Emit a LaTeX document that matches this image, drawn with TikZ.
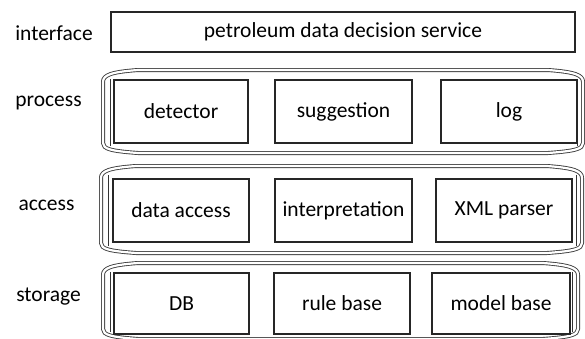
\documentclass[tikz,border=0pt]{standalone}
\usepackage{fontspec}
\setmainfont{Carlito}
\begin{document}
\begin{tikzpicture}[x=1pt,y=-1pt,
  box/.style={draw=black!85, line width=1.3pt, inner sep=0pt, font=\fontsize{21.5}{23}\selectfont},
  lbl/.style={font=\fontsize{21.5}{23}\selectfont, inner sep=0pt},
  grp/.style={draw=black!75, line width=0.9pt, double=white, double distance=2.2pt},
  bracket/.style={draw=black!80, line width=0.9pt}]
\useasboundingbox (0,0) rectangle (585,338);
\newcommand{\grpshape}[4]{%
  \draw[grp] (#1,#3+12) -- (#1,#4-10)
    .. controls (#1,#4-4) and (#1+8,#4-2) .. (#1+35,#4)
    -- (#2-35,#4)
    .. controls (#2-8,#4-2) and (#2,#4-4) .. (#2,#4-10)
    -- (#2,#3+12)
    .. controls (#2,#3+5) and (#2-8,#3+2) .. (#2-35,#3)
    -- (#1+35,#3)
    .. controls (#1+8,#3+2) and (#1,#3+5) .. cycle;
  \draw[bracket] (#1+7,#3+9) -- (#1+7,#4-7);
  \draw[bracket] (#2-6,#3+9) -- (#2-6,#4-7);
}
% labels
\node[lbl] (lint) at (54,33) {interface};
\node[lbl] (lpro) at (48.5,103) {process};
\node[lbl] (lacc) at (46.5,205) {access};
\node[lbl] (lsto) at (48.5,297) {storage};
% interface
\node[box, minimum width=464pt, minimum height=40pt] (svc) at (343,32) {petroleum data decision service};
% groups
\grpshape{103}{583}{70}{153}
\grpshape{101}{582}{166}{253}
\grpshape{103}{578}{263}{339}
% process
\node[box, minimum width=134pt, minimum height=63pt] (det) at (181,111.5) {detector};
\node[box, minimum width=137pt, minimum height=63pt] (sug) at (343.5,111.5) {suggestion};
\node[box, minimum width=136pt, minimum height=63pt] (log) at (509,111.5) {log};
% access
\node[box, minimum width=136pt, minimum height=63pt] (dac) at (181,210.5) {data access};
\node[box, minimum width=137pt, minimum height=63pt] (int) at (343.5,210.5) {interpretation};
\node[box, minimum width=136pt, minimum height=63pt] (xml) at (504,210.5) {XML parser};
% storage
\node[box, minimum width=135pt, minimum height=61pt] (db) at (181.5,303.5) {DB};
\node[box, minimum width=136pt, minimum height=61pt] (rule) at (342,303.5) {rule base};
\node[box, minimum width=138pt, minimum height=61pt] (model) at (501,303.5) {model base};
\end{tikzpicture}
\end{document}
